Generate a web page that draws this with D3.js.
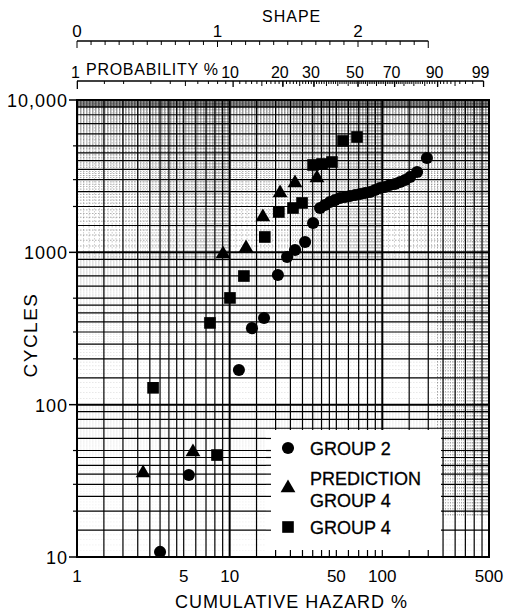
<!DOCTYPE html>
<html><head><meta charset="utf-8">
<script src="https://cdn.jsdelivr.net/npm/d3@7"></script>
<style>body{margin:0;background:#fff}</style>
</head><body><svg id="c" width="505" height="614"></svg>
<script>
// ---- data (cumulative hazard %, cycles) ----
const group2Hazard = [3.5, 5.4, 11.5, 14.0, 16.8, 20.7, 23.8, 26.8, 31.2, 35.2, 39.1, 42.1, 45.4, 49.0, 52.8, 57.0, 61.4, 66.3, 71.5, 77.0, 83.1, 89.6, 96.6, 104, 112, 121, 131, 141, 152, 169, 196];
const group2Cycles = [10.8, 34.5, 169, 318, 371, 710, 931, 1035, 1169, 1558, 1954, 2046, 2141, 2206, 2274, 2309, 2344, 2379, 2415, 2452, 2490, 2566, 2645, 2684, 2767, 2810, 2895, 2985, 3123, 3368, 4163];
const predHazard = [2.71, 5.75, 9.05, 12.8, 16.5, 21.4, 26.8, 37.3];
const predCycles = [35.6, 48.9, 975, 1068, 1706, 2452, 2852, 3076];
const group4Hazard = [3.15, 8.26, 7.43, 10.05, 12.4, 17.0, 21.0, 26.0, 29.8, 35.2, 40.3, 46.8, 55.3, 68.3];
const group4Cycles = [129, 46.7, 344, 502, 699, 1261, 1840, 1954, 2109, 3745, 3802, 3917, 5383, 5717];

const xTickValues = [1, 5, 10, 50, 100, 500];
const yTickValues = [10, 100, 1000, 10000];
const yTickLabels = ["10", "100", "1000", "10,000"];
const probTickValues = [1, 10, 20, 30, 50, 70, 90, 99];
const shapeTickValues = [0, 1, 2];
const gridMantissas = [1, 1.5, 2, 2.5, 3, 3.5, 4, 4.5, 5, 6, 7, 8, 9];
const legendLabels = [["GROUP 2"], ["PREDICTION", "GROUP 4"], ["GROUP 4"]];

// ---- layout ----
const svg = d3.select("#c");
const font = "'Liberation Sans', Arial, sans-serif";
const L = 77, R = 489, T = 100, B = 557;
const x = d3.scaleLog().domain([1, 500]).range([L, R]);
const y = d3.scaleLog().domain([10, 10000]).range([B, T]);
const shape = d3.scaleLinear().domain([0, 2]).range([L, 358]);
const probX = p => x(-100 * Math.log(1 - p / 100));

svg.append("rect").attr("width", 505).attr("height", 614).attr("fill", "#fff");
svg.append("defs").append("clipPath").attr("id", "plot")
  .append("rect").attr("x", L).attr("y", T).attr("width", R - L).attr("height", B - T);

const grid = svg.append("g").attr("clip-path", "url(#plot)");

function fineVals(lo, hi) {
  const out = [];
  for (let d = lo; d < hi; d *= 10) {
    for (let k = 11; k < 100; k++) { const v = d * k / 10; if (v <= hi) out.push({v, d}); }
  }
  return out;
}
// fine horizontal rulings
const hOp = {10: 0.07, 100: 0.16, 1000: 0.55};
grid.selectAll("line.fh").data(fineVals(10, 10000)).join("line")
  .attr("x1", L).attr("x2", R).attr("y1", d => y(d.v)).attr("y2", d => y(d.v))
  .attr("stroke", "#000").attr("stroke-width", 0.6).attr("stroke-dasharray", "1.5,1.5")
  .attr("opacity", d => hOp[d.d]);
// fine vertical rulings (upper band everywhere, full height on the right)
const fv = fineVals(1, 500);
grid.selectAll("line.fv").data(fv).join("line")
  .attr("x1", d => x(d.v)).attr("x2", d => x(d.v))
  .attr("y1", T).attr("y2", d => d.v >= 230 ? B - 40 : 262)
  .attr("stroke", "#000").attr("stroke-width", 0.6).attr("stroke-dasharray", "1.5,1.5")
  .attr("opacity", d => d.v >= 230 ? 0.6 : 0.35);
// darker top strip of the paper
grid.append("rect").attr("x", L).attr("y", T).attr("width", R - L).attr("height", 8).attr("fill", "#000").attr("opacity", 0.45);

// main rulings
const vMain = [], hMain = [];
[1, 10, 100].forEach(d => gridMantissas.forEach(m => { if (m * d <= 500) vMain.push(m * d); }));
[10, 100, 1000].forEach(d => gridMantissas.forEach(m => hMain.push(m * d)));
grid.selectAll("line.vm").data(vMain).join("line")
  .attr("x1", d => x(d)).attr("x2", d => x(d)).attr("y1", T).attr("y2", B)
  .attr("stroke", "#000").attr("stroke-width", d => [1, 10, 100].includes(d) ? 2 : 1.2);
grid.selectAll("line.hm").data(hMain).join("line")
  .attr("x1", L).attr("x2", R).attr("y1", d => y(d)).attr("y2", d => y(d))
  .attr("stroke", "#000").attr("stroke-width", d => [10, 100, 1000].includes(d) ? 2 : 1.2);

// legend box (blank paper)
const lg = svg.append("g");
lg.append("rect").attr("x", 266).attr("y", 430).attr("width", 175).attr("height", B - 430).attr("fill", "#fff");
lg.selectAll("line.bt").data(vMain.filter(v => x(v) > 268 && x(v) < 440)).join("line")
  .attr("x1", d => x(d)).attr("x2", d => x(d)).attr("y1", B).attr("y2", B - 7)
  .attr("stroke", "#000").attr("stroke-width", 1.2);
lg.selectAll("line.lt").data(hMain.filter(v => y(v) > 432 && y(v) < 555)).join("line")
  .attr("x1", 266).attr("x2", 271).attr("y1", d => y(d)).attr("y2", d => y(d))
  .attr("stroke", "#000").attr("stroke-width", 1.2);

// markers
const symCircle = d3.symbol().type(d3.symbolCircle).size(115)();
const symTri = d3.symbol().type(d3.symbolTriangle).size(95)();
const symSq = d3.symbol().type(d3.symbolSquare).size(135)();
const pts = svg.append("g");
pts.selectAll("path.g2").data(group2Hazard.map((h, i) => [h, group2Cycles[i]])).join("path")
  .attr("d", symCircle).attr("transform", d => `translate(${x(d[0])},${y(d[1])})`).attr("fill", "#000");
pts.selectAll("path.pr").data(predHazard.map((h, i) => [h, predCycles[i]])).join("path")
  .attr("d", symTri).attr("transform", d => `translate(${x(d[0])},${y(d[1])})`).attr("fill", "#000");
pts.selectAll("path.g4").data(group4Hazard.map((h, i) => [h, group4Cycles[i]])).join("path")
  .attr("d", symSq).attr("transform", d => `translate(${x(d[0])},${y(d[1])})`).attr("fill", "#000");

// legend entries
const legSyms = [symCircle, symTri, symSq];
const legY = [448, 488, 527];
legendLabels.forEach((lines, i) => {
  lg.append("path").attr("d", legSyms[i]).attr("transform", `translate(288,${legY[i]})`).attr("fill", "#000");
  const base = lines.length === 1 ? legY[i] + 7 : legY[i] - 3;
  lines.forEach((t, j) => lg.append("text").attr("x", 310).attr("y", base + j * 22)
    .attr("font-family", font).attr("font-size", 18).attr("stroke", "#000").attr("stroke-width", 0.3)
    .attr("fill", "#000").text(t));
});

// frame
svg.append("rect").attr("x", L).attr("y", T).attr("width", R - L).attr("height", B - T)
  .attr("fill", "none").attr("stroke", "#000").attr("stroke-width", 2);

// y axis
const yAx = svg.append("g");
const yMinor = [];
[1000, 100, 10].forEach(d => [2, 3, 5].forEach(m => yMinor.push(m * d)));
yAx.selectAll("line.yt").data(yMinor).join("line")
  .attr("x1", L - 4).attr("x2", L).attr("y1", d => y(d)).attr("y2", d => y(d)).attr("stroke", "#000").attr("stroke-width", 1.2);
yAx.selectAll("line.yM").data(yTickValues).join("line")
  .attr("x1", L - 8).attr("x2", L).attr("y1", d => y(d)).attr("y2", d => y(d)).attr("stroke", "#000").attr("stroke-width", 1.5);
yAx.selectAll("text").data(yTickValues).join("text")
  .attr("x", 68).attr("y", d => y(d) + 7).attr("text-anchor", "end")
  .attr("font-family", font).attr("font-size", 18).attr("letter-spacing", 1)
  .text((d, i) => yTickLabels[i]);
svg.append("text").attr("transform", "translate(37,335) rotate(-90)").attr("text-anchor", "middle")
  .attr("font-family", font).attr("font-size", 19).attr("letter-spacing", 1.5).text("CYCLES");

// x axis
svg.selectAll("text.xl").data(xTickValues).join("text").attr("class", "xl")
  .attr("x", d => x(d)).attr("y", 582).attr("text-anchor", "middle")
  .attr("font-family", font).attr("font-size", 17).text(d => d);
svg.append("text").attr("x", 175).attr("y", 608).attr("textLength", 232).attr("lengthAdjust", "spacing")
  .attr("font-family", font).attr("font-size", 18).text("CUMULATIVE HAZARD %");

// probability scale (top)
const pAx = svg.append("g");
pAx.append("line").attr("x1", L).attr("x2", probX(99)).attr("y1", 81).attr("y2", 81).attr("stroke", "#000").attr("stroke-width", 1.3);
const probMinor = [1.5, 2, 3, 4, 5, 6, 7, 8, 9, ...d3.range(11, 99)];
pAx.selectAll("line.pm").data(probMinor).join("line")
  .attr("x1", d => probX(d)).attr("x2", d => probX(d)).attr("y1", 81).attr("y2", d => d % 5 === 0 ? 86 : 84)
  .attr("stroke", "#000").attr("stroke-width", 1);
pAx.selectAll("line.pM").data(probTickValues).join("line")
  .attr("x1", d => probX(d)).attr("x2", d => probX(d)).attr("y1", 81).attr("y2", d => d === 1 ? 89 : 87)
  .attr("stroke", "#000").attr("stroke-width", 1.3);
pAx.selectAll("text").data(probTickValues).join("text")
  .attr("x", d => d === 1 ? probX(d) - 2 : probX(d) - 3).attr("y", 78).attr("text-anchor", "middle")
  .attr("font-family", font).attr("font-size", 16).text(d => d);
pAx.append("text").attr("x", 86).attr("y", 75).attr("font-family", font).attr("font-size", 16)
  .attr("textLength", 132).attr("lengthAdjust", "spacing").text("PROBABILITY %");

// shape scale (top)
const sAx = svg.append("g");
sAx.append("line").attr("x1", L).attr("x2", shape(2.5)).attr("y1", 41).attr("y2", 41).attr("stroke", "#000").attr("stroke-width", 1.3);
sAx.selectAll("line.st").data(d3.range(0, 26).map(i => i / 10)).join("line")
  .attr("x1", d => shape(d)).attr("x2", d => shape(d)).attr("y1", 41)
  .attr("y2", (d, i) => (i === 0 || i === 25) ? 48 : (i % 10 === 0 ? 47 : 45))
  .attr("stroke", "#000").attr("stroke-width", 1);
sAx.selectAll("text").data(shapeTickValues).join("text")
  .attr("x", d => shape(d)).attr("y", 37).attr("text-anchor", "middle")
  .attr("font-family", font).attr("font-size", 17).text(d => d);
svg.append("text").attr("x", 262).attr("y", 22).attr("font-family", font).attr("font-size", 16)
  .attr("letter-spacing", 1).text("SHAPE");
</script></body></html>
